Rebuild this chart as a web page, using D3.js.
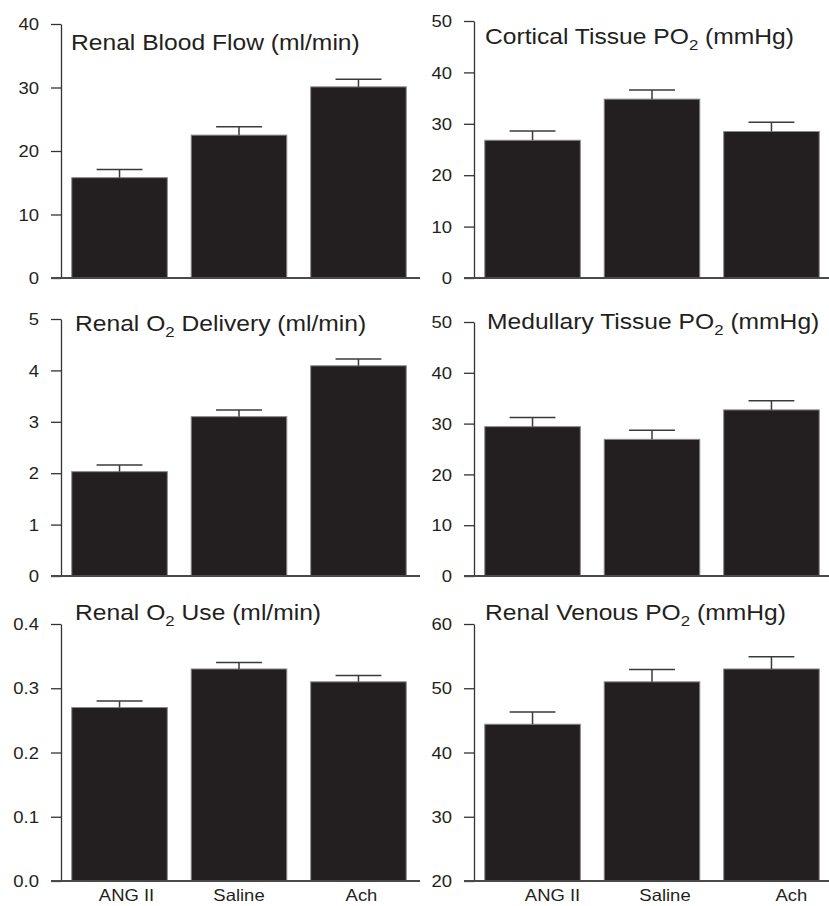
<!DOCTYPE html>
<html>
<head>
<meta charset="utf-8">
<script src="https://cdn.jsdelivr.net/npm/d3@7"></script>
<style>
  body { margin: 0; background: #fff; overflow: hidden; }
  svg { display: block; }
  text { font-family: Arial, "Liberation Sans", sans-serif; fill: #231f20; }
</style>
</head>
<body>
<div id="chart"></div>
<script>
// groups on the x axis
var categories = ["ANG II", "Saline", "Ach"];

// means and error bars
var bloodFlow = [15.8, 22.5, 30.1];
var bloodFlowErr = [1.3, 1.3, 1.2];
var corticalPO2 = [26.8, 34.8, 28.5];
var corticalPO2Err = [1.8, 1.8, 1.8];
var o2Delivery = [2.03, 3.10, 4.09];
var o2DeliveryErr = [0.13, 0.13, 0.13];
var medullaryPO2 = [29.4, 26.9, 32.7];
var medullaryPO2Err = [1.8, 1.8, 1.8];
var o2Use = [0.27, 0.33, 0.31];
var o2UseErr = [0.01, 0.01, 0.01];
var venousPO2 = [44.4, 51.0, 53.0];
var venousPO2Err = [1.9, 1.9, 1.9];

// y axis ticks of each panel
var bloodFlowTicks = [0, 10, 20, 30, 40];
var corticalTicks = [0, 10, 20, 30, 40, 50];
var deliveryTicks = [0, 1, 2, 3, 4, 5];
var medullaryTicks = [0, 10, 20, 30, 40, 50];
var useTicks = [0, 0.1, 0.2, 0.3, 0.4];
var venousTicks = [20, 30, 40, 50, 60];

var W = 829, H = 906;
var stretch = 1.12; // the figure's text is a bit wide

var svg = d3.select("#chart").append("svg").attr("width", W).attr("height", H);

var panels = [
    {title: ["Renal Blood Flow (ml/min)"], values: bloodFlow, err: bloodFlowErr, ticks: bloodFlowTicks,
     fmt: d3.format("d"), axisX: 61, bottom: 278, top: 24, titleX: 71, titleY: 50},
    {title: ["Cortical Tissue PO", "2", " (mmHg)"], values: corticalPO2, err: corticalPO2Err, ticks: corticalTicks,
     fmt: d3.format("d"), axisX: 474, bottom: 278, top: 21, titleX: 485, titleY: 44},
    {title: ["Renal O", "2", " Delivery (ml/min)"], values: o2Delivery, err: o2DeliveryErr, ticks: deliveryTicks,
     fmt: d3.format("d"), axisX: 61, bottom: 576, top: 319, titleX: 75, titleY: 331},
    {title: ["Medullary Tissue PO", "2", " (mmHg)"], values: medullaryPO2, err: medullaryPO2Err, ticks: medullaryTicks,
     fmt: d3.format("d"), axisX: 474, bottom: 576, top: 322, titleX: 487, titleY: 329},
    {title: ["Renal O", "2", " Use (ml/min)"], values: o2Use, err: o2UseErr, ticks: useTicks,
     fmt: d3.format(".1f"), axisX: 61, bottom: 881, top: 624, titleX: 75, titleY: 620,
     labels: true, labelDx: [7, 0, 3]},
    {title: ["Renal Venous PO", "2", " (mmHg)"], values: venousPO2, err: venousPO2Err, ticks: venousTicks,
     fmt: d3.format("d"), axisX: 474, bottom: 881, top: 624, titleX: 485, titleY: 620,
     labels: true, labelDx: [20, 13, 20]}
];

panels.forEach(function(p) {
    var g = svg.append("g");

    var x = d3.scaleBand()
        .domain(categories)
        .range([p.axisX, p.axisX + 356])
        .paddingInner(0.2)
        .paddingOuter(0.09);

    var y = d3.scaleLinear()
        .domain(d3.extent(p.ticks))
        .range([p.bottom, p.top]);

    var base = y.domain()[0];

    // bars
    g.selectAll("rect.bar")
        .data(p.values)
        .enter().append("rect")
        .attr("class", "bar")
        .attr("x", function(d, i) { return x(categories[i]); })
        .attr("width", x.bandwidth())
        .attr("y", function(d) { return y(d); })
        .attr("height", function(d) { return y(base) - y(d); })
        .attr("fill", "#231f20")
        .attr("stroke", "#8a8a8a")
        .attr("stroke-width", 1);

    // error bars (upper half only)
    var capW = x.bandwidth() * 0.48;
    var eb = g.selectAll("g.err")
        .data(p.values)
        .enter().append("g")
        .attr("class", "err")
        .attr("stroke", "#3a3a3a")
        .attr("stroke-width", 1.5);
    eb.append("line")
        .attr("x1", function(d, i) { return x(categories[i]) + x.bandwidth() / 2; })
        .attr("x2", function(d, i) { return x(categories[i]) + x.bandwidth() / 2; })
        .attr("y1", function(d) { return y(d); })
        .attr("y2", function(d, i) { return y(d + p.err[i]); });
    eb.append("line")
        .attr("x1", function(d, i) { return x(categories[i]) + x.bandwidth() / 2 - capW / 2; })
        .attr("x2", function(d, i) { return x(categories[i]) + x.bandwidth() / 2 + capW / 2; })
        .attr("y1", function(d, i) { return y(d + p.err[i]); })
        .attr("y2", function(d, i) { return y(d + p.err[i]); });

    // y axis
    var yAxis = d3.axisLeft(y)
        .tickValues(p.ticks)
        .tickFormat(p.fmt)
        .tickSize(10)
        .tickSizeOuter(0);

    var ag = g.append("g")
        .attr("transform", "translate(" + p.axisX + ",0)")
        .call(yAxis);
    ag.select(".domain").attr("stroke", "#333").attr("stroke-width", 1.3);
    ag.selectAll(".tick line").attr("stroke", "#333").attr("stroke-width", 1.3);
    ag.selectAll(".tick text")
        .attr("x", -22 / stretch)
        .attr("dy", "0.34em")
        .attr("transform", "scale(" + stretch + ",1)")
        .style("font-size", "16.5px")
        .style("font-family", "Arial, 'Liberation Sans', sans-serif")
        .attr("fill", "#231f20");

    // x axis baseline
    g.append("line")
        .attr("x1", p.axisX - 10)
        .attr("x2", p.axisX + 359)
        .attr("y1", y(base))
        .attr("y2", y(base))
        .attr("stroke", "#4a4a4a")
        .attr("stroke-width", 2);

    // category labels on the bottom row
    if (p.labels) {
        var xAxis = d3.axisBottom(x).tickSize(0).tickPadding(0);
        var xg = g.append("g")
            .attr("transform", "translate(0," + y(base) + ")")
            .call(xAxis);
        xg.select(".domain").remove();
        xg.selectAll(".tick text")
            .attr("y", 0)
            .attr("dy", 20)
            .attr("x", function(d, i) { return p.labelDx[i] / stretch; })
            .attr("transform", "scale(" + stretch + ",1)")
            .style("font-size", "16.5px")
            .style("font-family", "Arial, 'Liberation Sans', sans-serif")
            .attr("fill", "#231f20");
    }

    // panel title
    var t = g.append("text")
        .attr("transform", "translate(" + p.titleX + "," + p.titleY + ") scale(" + stretch + ",1)")
        .style("font-size", "22px");
    p.title.forEach(function(part, i) {
        var s = t.append("tspan").text(part);
        if (i === 1) s.attr("dy", 6).style("font-size", "15px");
        if (i === 2) s.attr("dy", -6);
    });
});
</script>
</body>
</html>
